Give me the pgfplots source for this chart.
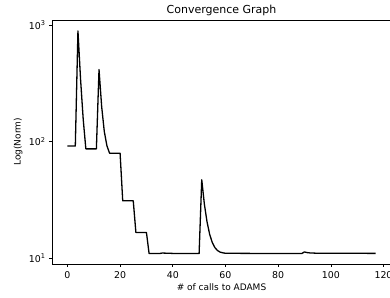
\documentclass[border=0pt]{standalone}
\usepackage{pgfplots}
\pgfplotsset{compat=1.18}
\usepackage{fontspec}
\setmainfont{DejaVu Sans}
\begin{document}
\begin{tikzpicture}
\begin{axis}[
  name=ax,
  scale only axis,
  width=339pt, height=244pt,
  ymode=log,
  xmin=-5.85, xmax=122.85,
  ymin=8.9, ymax=1104,
  axis line style={line width=0.6pt},
  tick style={line width=0.6pt, black},
  tick align=outside,
  xtick pos=left, ytick pos=left,
  major tick length=3pt,
  minor tick length=1.8pt,
  xtick={0,20,40,60,80,100,120},
  xticklabels={0,20,40,60,80,100,120},
  ytick={10,100,1000},
  yticklabels={10\textsuperscript{1},10\textsuperscript{2},10\textsuperscript{3}},
  log basis y=10,
  ticklabel style={font=\fontsize{9.4}{10}\selectfont},
  xticklabel style={yshift=-1pt},
  every axis title/.style={at={(0.5,1)}, anchor=base, yshift=6pt, font=\fontsize{11}{13}\selectfont},
  title={Convergence Graph},
  xlabel={\# of calls to ADAMS},
  ylabel={Log(Norm)},
  every axis x label/.style={at={(axis description cs:0.5,0)}, anchor=base, yshift=-27pt, font=\fontsize{9}{10}\selectfont},
  every axis y label/.style={at={(axis description cs:-0.1,0.5)}, anchor=center, rotate=90, font=\fontsize{9}{10}\selectfont},
]
\addplot[black, line width=1.3pt, line join=round] coordinates {
(0,91.5)(3,91.5)(4,890)(5,340)(6,155)(7,86.5)(11,86.5)(12,415)(13,200)(14,122)(15,92)(16,79.5)(20,79.5)(21,31)(25,31)(26,16.6)(30,16.6)(31,10.95)(35,10.95)(36,11.05)(40,10.97)(50,10.95)(51,47)(52,29)(53,20.5)(54,16)(55,13.6)(56,12.3)(57,11.6)(58,11.25)(59,11.1)(60,11.0)(70,10.97)(89,10.95)(90,11.3)(91,11.15)(92,11.08)(95,11.0)(117,10.98)
};
\end{axis}
\pgfresetboundingbox
\path[use as bounding box] ([xshift=-52pt,yshift=-34pt]ax.south west) rectangle ([xshift=-1pt,yshift=20pt]ax.north east);
\end{tikzpicture}
\end{document}
